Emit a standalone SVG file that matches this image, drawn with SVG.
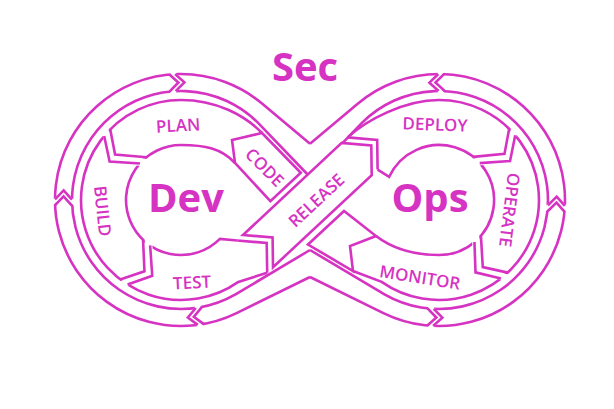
<svg xmlns="http://www.w3.org/2000/svg" xmlns:xlink="http://www.w3.org/1999/xlink" width="614" height="409" viewBox="0 0 614 409">
<style>
.ln{fill:none;stroke:#d633c3;stroke-width:2.6;stroke-linejoin:miter;stroke-miterlimit:10}
.wf{fill:#fff;stroke:#d633c3;stroke-width:2.6;stroke-linejoin:miter;stroke-miterlimit:10}
.gap{fill:#fff;stroke:none}
.lbl{font-family:"Open Sans","DejaVu Sans",sans-serif;font-weight:600;font-size:17px;fill:#d633c3;text-anchor:middle;dominant-baseline:central}
.big{font-family:"Open Sans","DejaVu Sans",sans-serif;font-weight:700;fill:#d633c3;text-anchor:middle}
</style>
<defs>
<g id="chevO">
<polygon class="gap" points="107,-7.5 117.5,1.5 128,-7.5 128,-1.5 117.5,7.5 107,-1.5"/>
<polyline class="ln" points="109,-7.5 117.5,1.5 126,-7.5"/>
<polyline class="ln" points="109,-1.5 117.5,7.5 126,-1.5"/>
</g>
<g id="chevR">
<polygon class="gap" points="50,-13 80,4 102,-13 102,-4 80,13 50,-4"/>
<polyline class="ln" points="53.4,-13 80,4 99.2,-13"/>
<polyline class="ln" points="54.8,-4 80,13 99.9,-4"/>
</g>
</defs>
<rect width="614" height="409" fill="#fff"/>
<g id="outer-band">
<path id="obL" class="ln" d="M310,277 L236.6,313.1 A126,126 0 1 1 262,103.5 L310,143.8 M310,250 L235.5,294.4 A109,109 0 1 1 258.1,122.9 L310,177"/>
<use xlink:href="#obL" transform="translate(620,0) scale(-1,1)"/>
<use xlink:href="#chevO" transform="translate(181,200) rotate(-92)"/>
<use xlink:href="#chevO" transform="translate(181,200) rotate(181)"/>
<use xlink:href="#chevO" transform="translate(181,200) rotate(83)"/>
<use xlink:href="#chevO" transform="translate(439,200) rotate(-91) scale(1,-1)"/>
<use xlink:href="#chevO" transform="translate(439,200) rotate(2) scale(1,-1)"/>
<use xlink:href="#chevO" transform="translate(439,200) rotate(92) scale(1,-1)"/>
</g>
<g id="dev-ring">
<path class="ln" d="M262,133 C244.6,115.1 216,100 181,100 A100,100 0 1 0 238.4,281.9 L267.2,272.7"/>
<path class="ln" d="M235,163 C221.4,148.3 205,145 181,145 A55,55 0 1 0 219.9,238.9 L237.2,240.5"/>
<polyline class="ln" points="237.2,240.5 266.7,243 267.2,272.7"/>
<use xlink:href="#chevR" transform="translate(181,200) rotate(217.5) scale(1,-1)"/>
<use xlink:href="#chevR" transform="translate(181,200) rotate(120) scale(1,-1)"/>
</g>
<g id="ops-ring">
<path class="ln" d="M347.6,137.4 C365.9,120.4 404,100 439,100 A100,100 0 1 1 381.6,281.9 L353,271"/>
<path class="ln" d="M376,236 C393,249 415,255 439,255 A55,55 0 1 0 389.2,176.8 L377.6,169.6"/>
<polyline class="ln" points="347.6,137.4 377.2,139.9 377.6,169.6"/>
<use xlink:href="#chevR" transform="translate(439,200) rotate(-38)"/>
<use xlink:href="#chevR" transform="translate(439,200) rotate(54)"/>
</g>
<g id="code">
<polygon class="wf" points="232,140 262,133 300.8,172.8 270.4,201.2 235,163"/>
</g>
<g id="return-box">
<polygon class="wf" points="308,244.5 344,211 376,236 350,246 353,271"/>
</g>
<g id="release">
<polygon class="wf" points="243,235 272.6,237.5 273,267.2 371.7,175.1 371.3,145.4 341.7,142.9"/>
</g>
<g id="labels">
<text class="big" x="305" y="81" font-size="40">Sec</text>
<text class="big" x="186" y="212" font-size="40">Dev</text>
<text class="big" x="430" y="212" font-size="40">Ops</text>
<text class="lbl" transform="translate(178,125) rotate(-3)">PLAN</text>
<text class="lbl" transform="translate(103,211) rotate(84)">BUILD</text>
<text class="lbl" transform="translate(192,282) rotate(-3)">TEST</text>
<text class="lbl" transform="translate(265,167) rotate(45)">CODE</text>
<text class="lbl" transform="translate(316,200) rotate(-43)" font-size="18">RELEASE</text>
<text class="lbl" transform="translate(435,124) rotate(2)">DEPLOY</text>
<text class="lbl" transform="translate(510,210) rotate(97)">OPERATE</text>
<text class="lbl" transform="translate(420,277) rotate(9)">MONITOR</text>
</g>
</svg>
